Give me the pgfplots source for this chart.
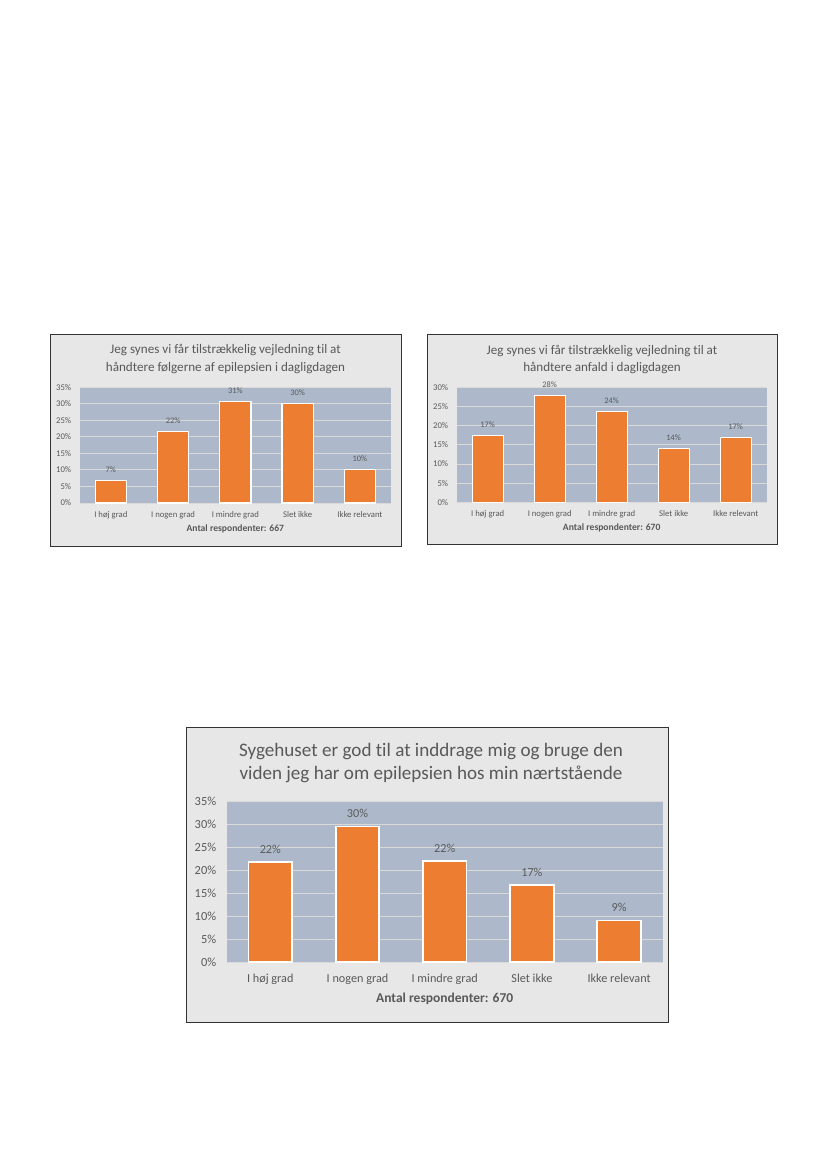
\documentclass[border=0pt]{standalone}
\usepackage{pgfplots}
\pgfplotsset{compat=1.18}
\usepackage{fontspec}
\setmainfont{Carlito}[Ligatures=NoCommon]

\definecolor{framefill}{HTML}{E7E7E7}
\definecolor{plotbg}{HTML}{ADB9CA}
\definecolor{gridgray}{HTML}{D9D9D9}
\definecolor{barorange}{HTML}{ED7D31}
\definecolor{txt}{HTML}{595959}

\pgfplotsset{
  /pgf/number format/assume math mode=true,
  surveybar/.style={
    scale only axis,
    anchor=south west,
    ybar, bar width=0.5,
    xmin=-0.5, xmax=4.5, ymin=0,
    xtick={0,...,4},
    xticklabels={I høj grad, I nogen grad, I mindre grad, Slet ikke, Ikke relevant},
    extra x ticks={-0.5,0.5,1.5,2.5,3.5,4.5},
    extra x tick labels={},
    extra x tick style={major tick length=3pt, tick align=outside,
      tick style={draw=gridgray, line width=0.8pt}},
    x tick style={draw=none},
    y tick style={draw=none},
    major tick length=0pt,
    axis background/.style={fill=plotbg},
    axis x line*=bottom, axis y line*=left,
    x axis line style={draw=gridgray, line width=1pt, -},
    y axis line style={draw=none},
    ymajorgrids,
    major grid style={draw=gridgray, line width=0.9pt},
    tick label style={text=txt},
    every axis label/.append style={text=txt},
    nodes near coords={\pgfmathprintnumber[fixed, precision=0]{\pgfplotspointmeta}\%},
    every node near coord/.append style={text=txt, anchor=center},
  },
}

\begin{document}
\begin{tikzpicture}
\path[use as bounding box, fill=white] (0pt,0pt) rectangle (827pt,-1169pt);

% ---------- chart 1 ----------
\draw[fill=framefill, draw=black!80, line width=0.9pt] (50pt,-334pt) rectangle (401pt,-546pt);
\node[anchor=base, text=txt, font=\fontsize{13.1}{15}\selectfont] at (225.5pt,-353.7pt) {Jeg synes vi får tilstrækkelig vejledning til at};
\node[anchor=base, text=txt, font=\fontsize{13.1}{15}\selectfont] at (225.5pt,-371.3pt) {håndtere følgerne af epilepsien i dagligdagen};
\begin{axis}[surveybar,
  at={(79.7pt,-503pt)}, width=311.3pt, height=115.7pt,
  ymax=35, ytick={0,5,...,35},
  yticklabels={0\%,5\%,10\%,15\%,20\%,25\%,30\%,35\%},
  yticklabel style={font=\fontsize{8.7}{10}\selectfont, xshift=-5pt},
  xticklabel style={font=\fontsize{8.7}{10}\selectfont, anchor=base, yshift=-14pt},
  xlabel={\textbf{Antal respondenter: 667}},
  xlabel style={font=\fontsize{9.6}{11}\selectfont, at={(axis description cs:0.5,0)}, anchor=base, yshift=-28.3pt},
  every node near coord/.append style={font=\fontsize{8.4}{10}\selectfont, yshift=11pt},
]
\addplot[fill=barorange, draw=white, line width=1.3pt]
  coordinates {(0,6.8) (1,21.7) (2,30.8) (3,30.2) (4,10.1)};
\end{axis}

% ---------- chart 2 ----------
\draw[fill=framefill, draw=black!80, line width=0.9pt] (427pt,-334pt) rectangle (777pt,-544pt);
\node[anchor=base, text=txt, font=\fontsize{13.1}{15}\selectfont] at (602pt,-354pt) {Jeg synes vi får tilstrækkelig vejledning til at};
\node[anchor=base, text=txt, font=\fontsize{13.1}{15}\selectfont] at (602pt,-371.3pt) {håndtere anfald i dagligdagen};
\begin{axis}[surveybar,
  at={(456.7pt,-502.3pt)}, width=310pt, height=115pt,
  ymax=30, ytick={0,5,...,30},
  yticklabels={0\%,5\%,10\%,15\%,20\%,25\%,30\%},
  yticklabel style={font=\fontsize{8.7}{10}\selectfont, xshift=-5pt},
  xticklabel style={font=\fontsize{8.7}{10}\selectfont, anchor=base, yshift=-14pt},
  xlabel={\textbf{Antal respondenter: 670}},
  xlabel style={font=\fontsize{9.6}{11}\selectfont, at={(axis description cs:0.5,0)}, anchor=base, yshift=-28.3pt},
  every node near coord/.append style={font=\fontsize{8.4}{10}\selectfont, yshift=11pt},
]
\addplot[fill=barorange, draw=white, line width=1.3pt]
  coordinates {(0,17.4) (1,27.9) (2,23.6) (3,14.1) (4,16.9)};
\end{axis}

% ---------- chart 3 ----------
\draw[fill=framefill, draw=black!80, line width=0.9pt] (186pt,-727pt) rectangle (668pt,-1022pt);
\node[anchor=base, text=txt, font=\fontsize{19.1}{22}\selectfont] at (431pt,-756.7pt) {Sygehuset er god til at inddrage mig og bruge den};
\node[anchor=base, text=txt, font=\fontsize{19.1}{22}\selectfont] at (431pt,-779.3pt) {viden jeg har om epilepsien hos min nærtstående};
\begin{axis}[surveybar,
  at={(226.7pt,-962.3pt)}, width=436pt, height=160.6pt,
  ymax=35, ytick={0,5,...,35},
  yticklabels={0\%,5\%,10\%,15\%,20\%,25\%,30\%,35\%},
  yticklabel style={font=\fontsize{12.4}{14}\selectfont, xshift=-7pt},
  xticklabel style={font=\fontsize{12.2}{14}\selectfont, anchor=base, yshift=-20pt},
  xlabel={\textbf{Antal respondenter: 670}},
  xlabel style={font=\fontsize{13.5}{16}\selectfont, at={(axis description cs:0.5,0)}, anchor=base, yshift=-40pt},
  every node near coord/.append style={font=\fontsize{12.2}{14}\selectfont, yshift=12.7pt},
]
\addplot[fill=barorange, draw=white, line width=1.8pt]
  coordinates {(0,21.9) (1,29.6) (2,22.1) (3,16.9) (4,9.1)};
\end{axis}
\end{tikzpicture}
\end{document}
